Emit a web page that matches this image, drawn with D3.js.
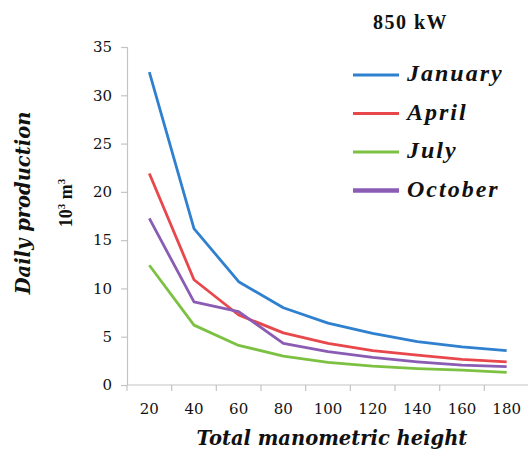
<!DOCTYPE html>
<html>
<head>
<meta charset="utf-8">
<script src="https://cdn.jsdelivr.net/npm/d3@7"></script>
<style>
  html, body { margin: 0; padding: 0; background: #fff; }
  svg { display: block; }
</style>
</head>
<body>
<svg id="chart" width="528" height="456"></svg>
<script>
// Total manometric height (m)
const heights = [20, 40, 60, 80, 100, 120, 140, 160, 180];
// Daily production (10^3 m^3) per month
const january = [32.4, 16.2, 10.7, 8.0, 6.4, 5.35, 4.5, 3.95, 3.55];
const april   = [21.9, 10.9, 7.25, 5.4, 4.3, 3.55, 3.1, 2.65, 2.4];
const july    = [12.4, 6.2, 4.1, 3.0, 2.35, 1.95, 1.7, 1.55, 1.3];
const october = [17.25, 8.6, 7.6, 4.3, 3.45, 2.85, 2.4, 2.05, 1.9];
const seriesNames = ["January", "April", "July", "October"];
const seriesColors = ["#2f80cf", "#e8474c", "#7dc142", "#8a5cb3"];
const yTicks = [0, 5, 10, 15, 20, 25, 30, 35];

const series = [january, april, july, october].map((v, i) => ({
  name: seriesNames[i], color: seriesColors[i], values: v
}));

const svg = d3.select("#chart");
const plotLeft = 127, plotRight = 529, plotTop = 47, plotBottom = 385;

const x = d3.scaleBand().domain(heights).range([plotLeft, plotRight]);
const y = d3.scaleLinear().domain([0, 35]).range([plotBottom, plotTop]);

const axisColor = "#c4c4c4";
const tickFont = "'DejaVu Serif', 'Liberation Serif', serif";

// Y axis
const yAxis = svg.append("g")
  .attr("transform", `translate(${plotLeft},0)`)
  .call(d3.axisLeft(y).tickValues(yTicks).tickSize(6).tickPadding(9));
yAxis.select(".domain").attr("stroke", axisColor).attr("stroke-width", 1.2);
yAxis.selectAll(".tick line").attr("stroke", axisColor).attr("stroke-width", 1.2);
yAxis.selectAll(".tick text")
  .attr("font-family", tickFont).attr("font-size", 15).attr("fill", "#111");

// X axis: category ticks sit between categories
const xAxis = svg.append("g")
  .attr("transform", `translate(0,${plotBottom})`);
xAxis.append("line")
  .attr("x1", plotLeft).attr("x2", plotRight)
  .attr("stroke", axisColor).attr("stroke-width", 1.2);
xAxis.selectAll("line.tk").data(heights).join("line")
  .attr("class", "tk")
  .attr("x1", d => x(d)).attr("x2", d => x(d))
  .attr("y1", 0).attr("y2", 6)
  .attr("stroke", axisColor).attr("stroke-width", 1.2);
xAxis.selectAll("text").data(heights).join("text")
  .attr("x", d => x(d) + x.bandwidth() / 2)
  .attr("y", 29)
  .attr("text-anchor", "middle")
  .attr("font-family", tickFont).attr("font-size", 15).attr("fill", "#111")
  .text(d => d);

// Lines
const line = d3.line()
  .x((d, i) => x(heights[i]) + x.bandwidth() / 2)
  .y(d => y(d));
svg.append("g").selectAll("path").data(series).join("path")
  .attr("d", d => line(d.values))
  .attr("fill", "none")
  .attr("stroke", d => d.color)
  .attr("stroke-width", 2.8)
  .attr("stroke-linejoin", "round");

// Axis titles
const axisTitleFont = "'DejaVu Serif', 'Liberation Serif', serif";
const titleFont = "'Liberation Serif', 'DejaVu Serif', serif";
svg.append("text")
  .attr("transform", "translate(30,203) rotate(-90)")
  .attr("text-anchor", "middle")
  .attr("font-family", axisTitleFont).attr("font-size", 19.5)
  .attr("font-weight", "bold").attr("font-style", "italic")
  .attr("fill", "#111")
  .text("Daily production");
const unit = svg.append("text")
  .attr("transform", "translate(72,203) rotate(-90)")
  .attr("text-anchor", "middle")
  .attr("font-family", titleFont).attr("font-size", 18)
  .attr("font-weight", "bold").attr("fill", "#111");
unit.append("tspan").text("10");
unit.append("tspan").attr("font-size", 11).attr("dy", -7).text("3");
unit.append("tspan").attr("dy", 7).text(" m");
unit.append("tspan").attr("font-size", 11).attr("dy", -7).text("3");

svg.append("text")
  .attr("x", 332).attr("y", 445)
  .attr("text-anchor", "middle")
  .attr("font-family", axisTitleFont).attr("font-size", 19.5)
  .attr("font-weight", "bold").attr("font-style", "italic")
  .attr("fill", "#111")
  .text("Total manometric height");

// Title
svg.append("text")
  .attr("x", 373).attr("y", 29)
  .attr("font-family", titleFont).attr("font-size", 20)
  .attr("font-weight", "bold").attr("letter-spacing", 1.5).attr("fill", "#111")
  .text("850 kW");

// Legend
const legend = svg.append("g").selectAll("g").data(series).join("g")
  .attr("transform", (d, i) => `translate(353,${75 + i * 38.5})`);
legend.append("line")
  .attr("x1", 0).attr("x2", 46)
  .attr("stroke", d => d.color)
  .attr("stroke-width", (d, i) => i === 3 ? 4.5 : 3);
legend.append("text")
  .attr("x", 54).attr("y", 6)
  .attr("font-family", titleFont).attr("font-size", 24)
  .attr("font-weight", "bold").attr("font-style", "italic")
  .attr("letter-spacing", 2)
  .attr("fill", "#111")
  .text(d => d.name);
</script>
</body>
</html>
